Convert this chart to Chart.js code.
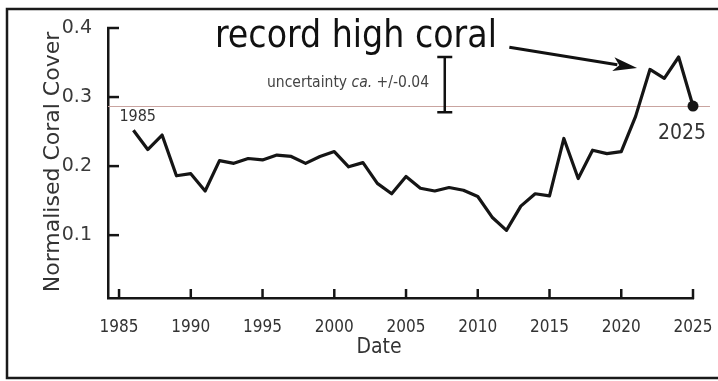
<!DOCTYPE html>
<html>
<head>
<meta charset="utf-8">
<title>Normalised Coral Cover</title>
<script src="https://cdn.jsdelivr.net/npm/chart.js@4.4.1/dist/chart.umd.min.js"></script>
<style>
  html, body { margin: 0; padding: 0; background: #fff; }
  #wrap { width: 718px; height: 381px; }
</style>
</head>
<body>
<div id="wrap"><canvas id="chart" width="718" height="381"></canvas></div>
<script>
// Annual normalised coral cover
const years = [1986, 1987, 1988, 1989, 1990, 1991, 1992, 1993, 1994, 1995,
               1996, 1997, 1998, 1999, 2000, 2001, 2002, 2003, 2004, 2005,
               2006, 2007, 2008, 2009, 2010, 2011, 2012, 2013, 2014, 2015,
               2016, 2017, 2018, 2019, 2020, 2021, 2022, 2023, 2024, 2025];
const cover = [0.252, 0.224, 0.245, 0.186, 0.189, 0.164, 0.208, 0.204, 0.211, 0.209,
               0.216, 0.214, 0.204, 0.214, 0.221, 0.199, 0.205, 0.175, 0.160, 0.185,
               0.168, 0.164, 0.169, 0.165, 0.156, 0.126, 0.107, 0.142, 0.160, 0.157,
               0.240, 0.182, 0.223, 0.218, 0.221, 0.272, 0.340, 0.327, 0.358, 0.287];

const xTickYears = [1985, 1990, 1995, 2000, 2005, 2010, 2015, 2020, 2025];
const yTickValues = [0.1, 0.2, 0.3, 0.4];
const endLabels = ['1985', '2025'];

const titleText = 'record high coral';
const uncertainty = 0.04;
const uncertaintyCentre = 0.318;
const uncertaintyYear = 2007.7;

const COND = '"DejaVu Sans Condensed", "DejaVu Sans", sans-serif';
const SANS = '"DejaVu Sans", sans-serif';
const INK = '#151515';

const points = years.map((yr, i) => ({ x: yr, y: cover[i] }));
const lastIdx = points.length - 1;

const decorations = {
  id: 'decorations',
  beforeDatasetsDraw(chart) {
    const { ctx, chartArea, scales: { y } } = chart;
    // thin reference line at the latest value
    const yy = Math.round(y.getPixelForValue(cover[lastIdx])) + 0.5;
    ctx.save();
    ctx.strokeStyle = '#c9a4a0';
    ctx.lineWidth = 1;
    ctx.beginPath();
    ctx.moveTo(chartArea.left, yy);
    ctx.lineTo(710, yy);
    ctx.stroke();
    ctx.restore();
  },
  afterDraw(chart) {
    const { ctx, chartArea, scales: { x, y } } = chart;
    ctx.save();

    // outer frame
    ctx.strokeStyle = '#1a1a1a';
    ctx.lineWidth = 2.5;
    ctx.beginPath();
    ctx.moveTo(722, 9);
    ctx.lineTo(7, 9);
    ctx.lineTo(7, 378);
    ctx.lineTo(722, 378);
    ctx.stroke();

    // inward tick marks
    ctx.strokeStyle = INK;
    ctx.lineWidth = 2.5;
    ctx.lineCap = 'butt';
    yTickValues.forEach(v => {
      const py = y.getPixelForValue(v);
      ctx.beginPath();
      ctx.moveTo(chartArea.left - 1, py);
      ctx.lineTo(chartArea.left + 11, py);
      ctx.stroke();
    });
    xTickYears.forEach(v => {
      const px = x.getPixelForValue(v);
      ctx.beginPath();
      ctx.moveTo(px, chartArea.bottom + 1);
      ctx.lineTo(px, chartArea.bottom - 9);
      ctx.stroke();
    });

    // axis titles
    ctx.fillStyle = '#333';
    ctx.textAlign = 'center';
    ctx.textBaseline = 'middle';
    ctx.font = '22px ' + SANS;
    ctx.save();
    ctx.translate(53, 162);
    ctx.rotate(-Math.PI / 2);
    ctx.fillText('Normalised Coral Cover', 0, 0);
    ctx.restore();
    ctx.font = '21px ' + COND;
    ctx.fillText('Date', 379, 348);

    // headline
    ctx.fillStyle = '#111';
    ctx.textAlign = 'left';
    ctx.textBaseline = 'alphabetic';
    ctx.font = '37px ' + COND;
    ctx.fillText(titleText, 215, 47);

    // arrow towards the recent peak
    const tipX = x.getPixelForValue(2021.1), tipY = y.getPixelForValue(0.342);
    const tailX = x.getPixelForValue(2012.2), tailY = y.getPixelForValue(0.372);
    const ang = Math.atan2(tipY - tailY, tipX - tailX);
    const headLen = 24, headW = 7;
    const baseX = tipX - headLen * Math.cos(ang), baseY = tipY - headLen * Math.sin(ang);
    ctx.strokeStyle = '#111';
    ctx.lineWidth = 3;
    ctx.beginPath();
    ctx.moveTo(tailX, tailY);
    ctx.lineTo(baseX + 4 * Math.cos(ang), baseY + 4 * Math.sin(ang));
    ctx.stroke();
    ctx.fillStyle = '#111';
    ctx.beginPath();
    ctx.moveTo(tipX, tipY);
    ctx.lineTo(baseX - headW * Math.sin(ang), baseY + headW * Math.cos(ang));
    ctx.lineTo(baseX + 6 * Math.cos(ang), baseY + 6 * Math.sin(ang));
    ctx.lineTo(baseX + headW * Math.sin(ang), baseY - headW * Math.cos(ang));
    ctx.closePath();
    ctx.fill();

    // uncertainty note with its bar
    ctx.fillStyle = '#444';
    let tx = 267;
    const ty = 87;
    const parts = [['uncertainty ', ''], ['ca.', 'italic '], [' +/-0.04', '']];
    parts.forEach(([s, style]) => {
      ctx.font = style + '15.5px ' + COND;
      ctx.fillText(s, tx, ty);
      tx += ctx.measureText(s).width;
    });
    const bx = x.getPixelForValue(uncertaintyYear);
    const bTop = y.getPixelForValue(uncertaintyCentre + uncertainty);
    const bBot = y.getPixelForValue(uncertaintyCentre - uncertainty);
    ctx.strokeStyle = '#111';
    ctx.lineWidth = 2.5;
    ctx.beginPath();
    ctx.moveTo(bx, bTop); ctx.lineTo(bx, bBot);
    ctx.moveTo(bx - 7.5, bTop); ctx.lineTo(bx + 7.5, bTop);
    ctx.moveTo(bx - 7.5, bBot); ctx.lineTo(bx + 7.5, bBot);
    ctx.stroke();

    // start / end labels beside the line
    const meta = chart.getDatasetMeta(0);
    const p0 = meta.data[0], pN = meta.data[lastIdx];
    ctx.fillStyle = '#333';
    ctx.textBaseline = 'middle';
    ctx.textAlign = 'left';
    ctx.font = '16px ' + COND;
    ctx.fillText(endLabels[0], p0.x - 14, p0.y - 13);
    ctx.textAlign = 'center';
    ctx.font = '21px ' + COND;
    ctx.fillText(endLabels[1], pN.x - 11, pN.y + 28);

    ctx.restore();
  }
};

new Chart(document.getElementById('chart'), {
  type: 'line',
  data: {
    datasets: [{
      data: points,
      borderColor: INK,
      borderWidth: 3.2,
      borderJoinStyle: 'round',
      tension: 0,
      fill: false,
      pointRadius: points.map((_, i) => (i === lastIdx ? 5.5 : 0)),
      pointBackgroundColor: INK,
      pointBorderColor: INK,
      pointBorderWidth: 0,
      clip: false
    }]
  },
  options: {
    responsive: false,
    animation: false,
    devicePixelRatio: 1,
    layout: { padding: { left: 0, top: 28, right: 25, bottom: 0 } },
    plugins: { legend: { display: false }, tooltip: { enabled: false }, title: { display: false } },
    scales: {
      x: {
        type: 'linear',
        min: 1984.23,
        max: 2025,
        afterBuildTicks: s => { s.ticks = xTickYears.map(v => ({ value: v })); },
        afterFit: s => { s.height = 83; s.paddingLeft = 0; s.paddingRight = 0; },
        grid: { display: false },
        border: { display: true, color: INK, width: 2.5 },
        ticks: {
          autoSkip: false,
          maxRotation: 0,
          padding: 11,
          color: '#333',
          font: { family: COND, size: 17 },
          callback: v => String(v)
        }
      },
      y: {
        min: 0.009,
        max: 0.4,
        afterBuildTicks: s => { s.ticks = yTickValues.map(v => ({ value: v })); },
        afterFit: s => { s.width = 108; s.paddingTop = 0; s.paddingBottom = 0; },
        grid: { display: false },
        border: { display: true, color: INK, width: 2.5 },
        ticks: {
          padding: 8,
          color: '#3a3a3a',
          font: { family: SANS, size: 19 },
          callback: v => v.toFixed(1)
        }
      }
    }
  },
  plugins: [decorations]
});
</script>
</body>
</html>
